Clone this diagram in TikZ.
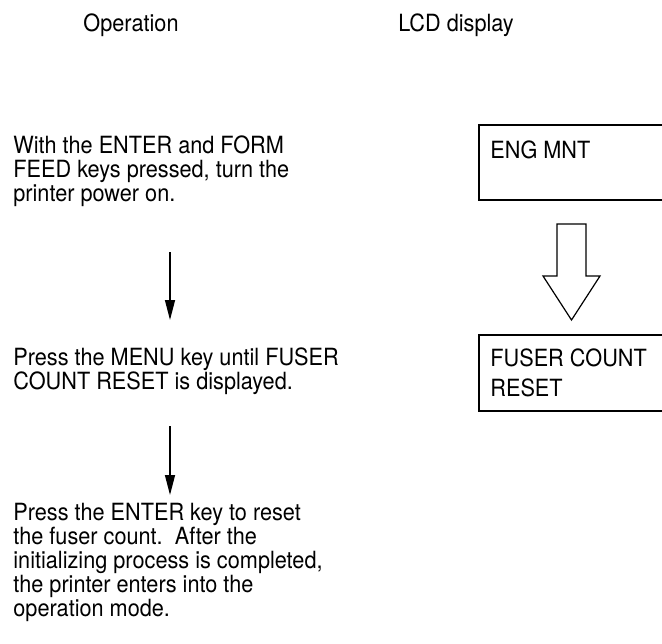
\documentclass[tikz,border=0pt]{standalone}
\usepackage{fontspec}
\setmainfont{TeX Gyre Heros}[FakeStretch=0.915]
\usepackage{tikz}
\usetikzlibrary{arrows.meta,positioning}
\definecolor{ink}{HTML}{000000}

\begin{document}
\begin{tikzpicture}[x=0.5pt,y=-0.5pt,
  font=\fontsize{11.85pt}{12pt}\selectfont,
  head/.style={inner sep=0pt,anchor=base},
  optext/.style={inner sep=0pt,anchor=north west,align=left},
  lcdbox/.style={draw=ink,line width=0.8pt,anchor=north west,minimum width=115pt,inner sep=0pt},
  lcdtext/.style={inner sep=0pt,align=left,font=\fontsize{11.85pt}{15pt}\selectfont},
  flow/.style={-{Triangle[length=10pt,width=5pt]},line width=0.7pt,draw=ink}]
\useasboundingbox (0,0) rectangle (662,643);
\clip (0,0) rectangle (662,643);
% headings
\node[head] (hop) at (131,31) {Operation};
\node[head] (hlcd) at (456,31) {LCD display};
% operation steps
\node[optext] (op1) at (13,135) {With the ENTER and FORM\\FEED keys pressed, turn the\\printer power on.};
\node[optext] (op2) at (13,347) {Press the MENU key until FUSER\\COUNT RESET is displayed.};
\node[optext] (op3) at (13,503) {Press the ENTER key to reset\\the fuser count.\ \ After the\\initializing process is completed,\\the printer enters into the\\operation mode.};
\coordinate (a1) at (170,252);
\coordinate (a1e) at (170,320);
\coordinate (a2) at (170,426);
\coordinate (a2e) at (170,495);
\draw[flow] (a1)--(a1e);
\draw[flow] (a2)--(a2e);
% lcd display
\node[lcdbox,minimum height=37.5pt] (lcd1) at (478,124) {};
\node[lcdtext,anchor=north west,below right=8pt and 6pt of lcd1.north west] (t1) {ENG MNT};
\node[lcdbox,minimum height=38pt] (lcd2) at (478,334) {};
\node[lcdtext,anchor=north west,below right=7pt and 6pt of lcd2.north west] (t2) {FUSER COUNT\\RESET};
\draw[draw=ink,line width=0.6pt,line join=miter]
  (557,224) -- (586,224) -- (586,276) -- (600,276) -- (571.5,320)
  -- (543,276) -- (557,276) -- cycle;
\end{tikzpicture}
\end{document}
